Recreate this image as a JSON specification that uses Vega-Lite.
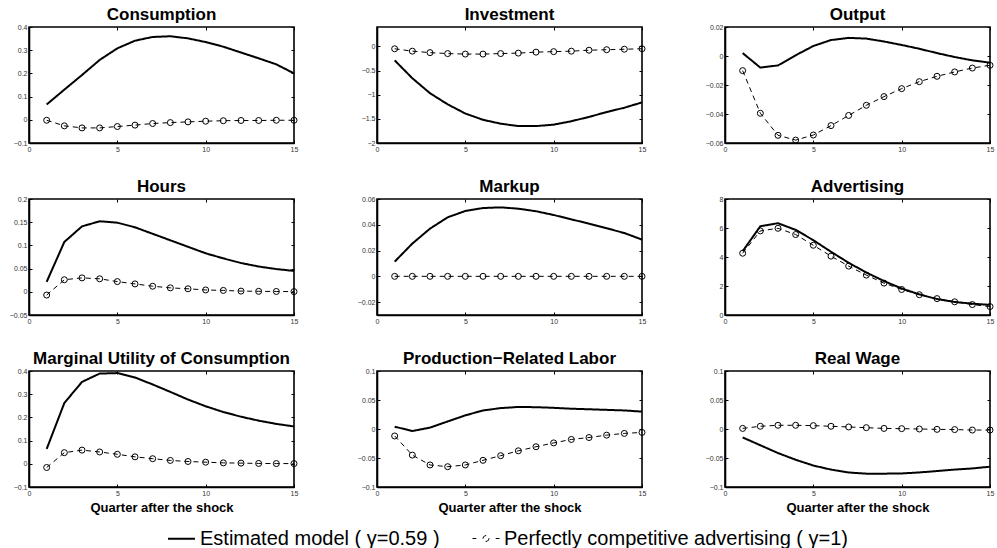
{
  "$schema": "https://vega.github.io/schema/vega-lite/v6.json",
  "background": "white",
  "padding": {"left": 8, "top": 5, "right": 4, "bottom": 2},
  "data": {
    "values": [
      {"p": "Consumption", "q": 1, "e": 0.066, "c": -0.002},
      {"p": "Consumption", "q": 2, "e": 0.13, "c": -0.026},
      {"p": "Consumption", "q": 3, "e": 0.193, "c": -0.035},
      {"p": "Consumption", "q": 4, "e": 0.258, "c": -0.035},
      {"p": "Consumption", "q": 5, "e": 0.308, "c": -0.029},
      {"p": "Consumption", "q": 6, "e": 0.341, "c": -0.023},
      {"p": "Consumption", "q": 7, "e": 0.357, "c": -0.016},
      {"p": "Consumption", "q": 8, "e": 0.36, "c": -0.012},
      {"p": "Consumption", "q": 9, "e": 0.351, "c": -0.009},
      {"p": "Consumption", "q": 10, "e": 0.335, "c": -0.006},
      {"p": "Consumption", "q": 11, "e": 0.315, "c": -0.004},
      {"p": "Consumption", "q": 12, "e": 0.29, "c": -0.003},
      {"p": "Consumption", "q": 13, "e": 0.265, "c": -0.003},
      {"p": "Consumption", "q": 14, "e": 0.239, "c": -0.002},
      {"p": "Consumption", "q": 15, "e": 0.2, "c": -0.002},

      {"p": "Investment", "q": 1, "e": -0.29, "c": -0.05},
      {"p": "Investment", "q": 2, "e": -0.66, "c": -0.1},
      {"p": "Investment", "q": 3, "e": -0.97, "c": -0.13},
      {"p": "Investment", "q": 4, "e": -1.2, "c": -0.15},
      {"p": "Investment", "q": 5, "e": -1.39, "c": -0.16},
      {"p": "Investment", "q": 6, "e": -1.52, "c": -0.16},
      {"p": "Investment", "q": 7, "e": -1.6, "c": -0.15},
      {"p": "Investment", "q": 8, "e": -1.65, "c": -0.14},
      {"p": "Investment", "q": 9, "e": -1.65, "c": -0.12},
      {"p": "Investment", "q": 10, "e": -1.62, "c": -0.11},
      {"p": "Investment", "q": 11, "e": -1.55, "c": -0.1},
      {"p": "Investment", "q": 12, "e": -1.46, "c": -0.08},
      {"p": "Investment", "q": 13, "e": -1.36, "c": -0.07},
      {"p": "Investment", "q": 14, "e": -1.27, "c": -0.06},
      {"p": "Investment", "q": 15, "e": -1.16, "c": -0.05},

      {"p": "Output", "q": 1, "e": 0.002, "c": -0.0101},
      {"p": "Output", "q": 2, "e": -0.008, "c": -0.0395},
      {"p": "Output", "q": 3, "e": -0.0065, "c": -0.0547},
      {"p": "Output", "q": 4, "e": 0.0005, "c": -0.058},
      {"p": "Output", "q": 5, "e": 0.0069, "c": -0.0545},
      {"p": "Output", "q": 6, "e": 0.011, "c": -0.048},
      {"p": "Output", "q": 7, "e": 0.0125, "c": -0.041},
      {"p": "Output", "q": 8, "e": 0.012, "c": -0.034},
      {"p": "Output", "q": 9, "e": 0.01, "c": -0.028},
      {"p": "Output", "q": 10, "e": 0.0076, "c": -0.0225},
      {"p": "Output", "q": 11, "e": 0.005, "c": -0.0177},
      {"p": "Output", "q": 12, "e": 0.002, "c": -0.014},
      {"p": "Output", "q": 13, "e": -0.0007, "c": -0.011},
      {"p": "Output", "q": 14, "e": -0.003, "c": -0.0083},
      {"p": "Output", "q": 15, "e": -0.0046, "c": -0.0064},

      {"p": "Hours", "q": 1, "e": 0.0215, "c": -0.007},
      {"p": "Hours", "q": 2, "e": 0.1075, "c": 0.026},
      {"p": "Hours", "q": 3, "e": 0.141, "c": 0.03},
      {"p": "Hours", "q": 4, "e": 0.152, "c": 0.028},
      {"p": "Hours", "q": 5, "e": 0.149, "c": 0.022},
      {"p": "Hours", "q": 6, "e": 0.139, "c": 0.017},
      {"p": "Hours", "q": 7, "e": 0.125, "c": 0.012},
      {"p": "Hours", "q": 8, "e": 0.111, "c": 0.0085},
      {"p": "Hours", "q": 9, "e": 0.097, "c": 0.0065},
      {"p": "Hours", "q": 10, "e": 0.083, "c": 0.004},
      {"p": "Hours", "q": 11, "e": 0.072, "c": 0.003},
      {"p": "Hours", "q": 12, "e": 0.062, "c": 0.0015},
      {"p": "Hours", "q": 13, "e": 0.0545, "c": 0.001},
      {"p": "Hours", "q": 14, "e": 0.049, "c": 0.0007},
      {"p": "Hours", "q": 15, "e": 0.045, "c": 0.0004},

      {"p": "Markup", "q": 1, "e": 0.0114, "c": 0},
      {"p": "Markup", "q": 2, "e": 0.0254, "c": 0},
      {"p": "Markup", "q": 3, "e": 0.037, "c": 0},
      {"p": "Markup", "q": 4, "e": 0.0458, "c": 0},
      {"p": "Markup", "q": 5, "e": 0.0507, "c": 0},
      {"p": "Markup", "q": 6, "e": 0.053, "c": 0},
      {"p": "Markup", "q": 7, "e": 0.0535, "c": 0},
      {"p": "Markup", "q": 8, "e": 0.0525, "c": 0},
      {"p": "Markup", "q": 9, "e": 0.0505, "c": 0},
      {"p": "Markup", "q": 10, "e": 0.0476, "c": 0},
      {"p": "Markup", "q": 11, "e": 0.0442, "c": 0},
      {"p": "Markup", "q": 12, "e": 0.0409, "c": 0},
      {"p": "Markup", "q": 13, "e": 0.0373, "c": 0},
      {"p": "Markup", "q": 14, "e": 0.0336, "c": 0},
      {"p": "Markup", "q": 15, "e": 0.0285, "c": 0},

      {"p": "Advertising", "q": 1, "e": 4.4, "c": 4.26},
      {"p": "Advertising", "q": 2, "e": 6.12, "c": 5.8},
      {"p": "Advertising", "q": 3, "e": 6.33, "c": 5.98},
      {"p": "Advertising", "q": 4, "e": 5.87, "c": 5.55},
      {"p": "Advertising", "q": 5, "e": 5.16, "c": 4.81},
      {"p": "Advertising", "q": 6, "e": 4.36, "c": 4.06},
      {"p": "Advertising", "q": 7, "e": 3.6, "c": 3.37},
      {"p": "Advertising", "q": 8, "e": 2.93, "c": 2.75},
      {"p": "Advertising", "q": 9, "e": 2.34, "c": 2.2},
      {"p": "Advertising", "q": 10, "e": 1.83, "c": 1.76},
      {"p": "Advertising", "q": 11, "e": 1.42, "c": 1.4},
      {"p": "Advertising", "q": 12, "e": 1.1, "c": 1.13},
      {"p": "Advertising", "q": 13, "e": 0.9, "c": 0.91},
      {"p": "Advertising", "q": 14, "e": 0.78, "c": 0.72},
      {"p": "Advertising", "q": 15, "e": 0.7, "c": 0.58},

      {"p": "Marginal Utility of Consumption", "q": 1, "e": 0.064, "c": -0.016},
      {"p": "Marginal Utility of Consumption", "q": 2, "e": 0.262, "c": 0.048},
      {"p": "Marginal Utility of Consumption", "q": 3, "e": 0.353, "c": 0.059},
      {"p": "Marginal Utility of Consumption", "q": 4, "e": 0.389, "c": 0.051},
      {"p": "Marginal Utility of Consumption", "q": 5, "e": 0.391, "c": 0.041},
      {"p": "Marginal Utility of Consumption", "q": 6, "e": 0.372, "c": 0.03},
      {"p": "Marginal Utility of Consumption", "q": 7, "e": 0.342, "c": 0.022},
      {"p": "Marginal Utility of Consumption", "q": 8, "e": 0.31, "c": 0.0145},
      {"p": "Marginal Utility of Consumption", "q": 9, "e": 0.277, "c": 0.01},
      {"p": "Marginal Utility of Consumption", "q": 10, "e": 0.248, "c": 0.007},
      {"p": "Marginal Utility of Consumption", "q": 11, "e": 0.223, "c": 0.004},
      {"p": "Marginal Utility of Consumption", "q": 12, "e": 0.203, "c": 0.003},
      {"p": "Marginal Utility of Consumption", "q": 13, "e": 0.186, "c": 0.0015},
      {"p": "Marginal Utility of Consumption", "q": 14, "e": 0.172, "c": 0.001},
      {"p": "Marginal Utility of Consumption", "q": 15, "e": 0.161, "c": 0.001},

      {"p": "Production−Related Labor", "q": 1, "e": 0.004, "c": -0.012},
      {"p": "Production−Related Labor", "q": 2, "e": -0.0035, "c": -0.045},
      {"p": "Production−Related Labor", "q": 3, "e": 0.0024, "c": -0.062},
      {"p": "Production−Related Labor", "q": 4, "e": 0.013, "c": -0.065},
      {"p": "Production−Related Labor", "q": 5, "e": 0.0235, "c": -0.062},
      {"p": "Production−Related Labor", "q": 6, "e": 0.032, "c": -0.054},
      {"p": "Production−Related Labor", "q": 7, "e": 0.036, "c": -0.046},
      {"p": "Production−Related Labor", "q": 8, "e": 0.038, "c": -0.0376},
      {"p": "Production−Related Labor", "q": 9, "e": 0.0376, "c": -0.0306},
      {"p": "Production−Related Labor", "q": 10, "e": 0.0365, "c": -0.024},
      {"p": "Production−Related Labor", "q": 11, "e": 0.035, "c": -0.018},
      {"p": "Production−Related Labor", "q": 12, "e": 0.034, "c": -0.0147},
      {"p": "Production−Related Labor", "q": 13, "e": 0.033, "c": -0.0106},
      {"p": "Production−Related Labor", "q": 14, "e": 0.032, "c": -0.0076},
      {"p": "Production−Related Labor", "q": 15, "e": 0.03, "c": -0.0059},

      {"p": "Real Wage", "q": 1, "e": -0.0146, "c": 0.001},
      {"p": "Real Wage", "q": 2, "e": -0.028, "c": 0.0047},
      {"p": "Real Wage", "q": 3, "e": -0.0415, "c": 0.0064},
      {"p": "Real Wage", "q": 4, "e": -0.053, "c": 0.0064},
      {"p": "Real Wage", "q": 5, "e": -0.063, "c": 0.0058},
      {"p": "Real Wage", "q": 6, "e": -0.07, "c": 0.0047},
      {"p": "Real Wage", "q": 7, "e": -0.075, "c": 0.0035},
      {"p": "Real Wage", "q": 8, "e": -0.077, "c": 0.0023},
      {"p": "Real Wage", "q": 9, "e": -0.077, "c": 0.001},
      {"p": "Real Wage", "q": 10, "e": -0.0766, "c": 0.0006},
      {"p": "Real Wage", "q": 11, "e": -0.0749, "c": 0},
      {"p": "Real Wage", "q": 12, "e": -0.0725, "c": -0.0006},
      {"p": "Real Wage", "q": 13, "e": -0.07, "c": -0.001},
      {"p": "Real Wage", "q": 14, "e": -0.068, "c": -0.0018},
      {"p": "Real Wage", "q": 15, "e": -0.065, "c": -0.0018}
    ]
  },
  "columns": 3,
  "bounds": "flush",
  "spacing": {"row": 56, "column": 83},
  "concat": [
    {
      "title": "Consumption", "width": 265, "height": 116,
      "transform": [{"filter": "datum.p === 'Consumption'"}, {"fold": ["e", "c"], "as": ["s", "v"]}],
      "layer": [
        {"mark": {"type": "line", "color": "black"},
         "encoding": {
           "x": {"field": "q", "type": "quantitative", "scale": {"domain": [0, 15]}, "axis": {"values": [0, 5, 10, 15], "title": null}},
           "y": {"field": "v", "type": "quantitative", "scale": {"domain": [-0.1, 0.4]}, "axis": {"values": [-0.1, 0, 0.1, 0.2, 0.3, 0.4], "title": null}},
           "strokeDash": {"field": "s", "type": "nominal", "scale": {"domain": ["e", "c"], "range": [[1, 0], [5, 4]]},
             "legend": {"orient": "none", "legendX": 138, "legendY": 497, "direction": "horizontal", "title": null,
               "symbolType": "stroke", "symbolSize": 729, "symbolStrokeColor": "black", "symbolStrokeWidth": 1.3,
               "labelExpr": "datum.value === 'e' ? 'Estimated model ( γ=0.59 )' : 'Perfectly competitive advertising ( γ=1)'",
               "encode": {"symbols": {"update": {
                 "shape": {"signal": "datum.value === 'c' ? 'M-1,0L-0.72,0M0.22,0L0.19,0.11L0.11,0.19L0,0.22L-0.11,0.19L-0.19,0.11L-0.22,0L-0.19,-0.11L-0.11,-0.19L0,-0.22L0.11,-0.19L0.19,-0.11ZM0.72,0L1,0' : 'stroke'"},
                 "strokeDash": {"value": [1, 0]},
                 "fill": {"value": "transparent"}
               }}}}},
           "strokeWidth": {"field": "s", "type": "nominal", "scale": {"domain": ["e", "c"], "range": [2, 1]}, "legend": null}
         }},
        {"transform": [{"filter": "datum.s === 'c'"}],
         "mark": {"type": "point", "shape": "circle", "filled": false, "color": "black", "size": 36, "strokeWidth": 1, "opacity": 1},
         "encoding": {
           "x": {"field": "q", "type": "quantitative", "scale": {"domain": [0, 15]}, "axis": {"orient": "top", "values": [0, 5, 10, 15], "labels": false, "domain": false, "title": null, "minExtent": 4}},
           "y": {"field": "v", "type": "quantitative", "scale": {"domain": [-0.1, 0.4]}, "axis": {"orient": "right", "values": [-0.1, 0, 0.1, 0.2, 0.3, 0.4], "labels": false, "domain": false, "title": null}}
         }}
      ],
      "resolve": {"axis": {"x": "independent", "y": "independent"}}
    },
    {
      "title": "Investment", "width": 265, "height": 116,
      "transform": [{"filter": "datum.p === 'Investment'"}, {"fold": ["e", "c"], "as": ["s", "v"]}],
      "layer": [
        {"mark": {"type": "line", "color": "black"},
         "encoding": {
           "x": {"field": "q", "type": "quantitative", "scale": {"domain": [0, 15]}, "axis": {"values": [0, 5, 10, 15], "title": null}},
           "y": {"field": "v", "type": "quantitative", "scale": {"domain": [-2, 0.4]}, "axis": {"values": [-2, -1.5, -1, -0.5, 0], "title": null}},
           "strokeDash": {"field": "s", "type": "nominal", "scale": {"domain": ["e", "c"], "range": [[1, 0], [5, 4]]}},
           "strokeWidth": {"field": "s", "type": "nominal", "scale": {"domain": ["e", "c"], "range": [2, 1]}, "legend": null}
         }},
        {"transform": [{"filter": "datum.s === 'c'"}],
         "mark": {"type": "point", "shape": "circle", "filled": false, "color": "black", "size": 36, "strokeWidth": 1, "opacity": 1},
         "encoding": {
           "x": {"field": "q", "type": "quantitative", "scale": {"domain": [0, 15]}, "axis": {"orient": "top", "values": [0, 5, 10, 15], "labels": false, "domain": false, "title": null, "minExtent": 4}},
           "y": {"field": "v", "type": "quantitative", "scale": {"domain": [-2, 0.4]}, "axis": {"orient": "right", "values": [-2, -1.5, -1, -0.5, 0], "labels": false, "domain": false, "title": null}}
         }}
      ],
      "resolve": {"axis": {"x": "independent", "y": "independent"}}
    },
    {
      "title": "Output", "width": 265, "height": 116,
      "transform": [{"filter": "datum.p === 'Output'"}, {"fold": ["e", "c"], "as": ["s", "v"]}],
      "layer": [
        {"mark": {"type": "line", "color": "black"},
         "encoding": {
           "x": {"field": "q", "type": "quantitative", "scale": {"domain": [0, 15]}, "axis": {"values": [0, 5, 10, 15], "title": null}},
           "y": {"field": "v", "type": "quantitative", "scale": {"domain": [-0.06, 0.02]}, "axis": {"values": [-0.06, -0.04, -0.02, 0, 0.02], "title": null}},
           "strokeDash": {"field": "s", "type": "nominal", "scale": {"domain": ["e", "c"], "range": [[1, 0], [5, 4]]}},
           "strokeWidth": {"field": "s", "type": "nominal", "scale": {"domain": ["e", "c"], "range": [2, 1]}, "legend": null}
         }},
        {"transform": [{"filter": "datum.s === 'c'"}],
         "mark": {"type": "point", "shape": "circle", "filled": false, "color": "black", "size": 36, "strokeWidth": 1, "opacity": 1},
         "encoding": {
           "x": {"field": "q", "type": "quantitative", "scale": {"domain": [0, 15]}, "axis": {"orient": "top", "values": [0, 5, 10, 15], "labels": false, "domain": false, "title": null, "minExtent": 4}},
           "y": {"field": "v", "type": "quantitative", "scale": {"domain": [-0.06, 0.02]}, "axis": {"orient": "right", "values": [-0.06, -0.04, -0.02, 0, 0.02], "labels": false, "domain": false, "title": null}}
         }}
      ],
      "resolve": {"axis": {"x": "independent", "y": "independent"}}
    },
    {
      "title": "Hours", "width": 265, "height": 116,
      "transform": [{"filter": "datum.p === 'Hours'"}, {"fold": ["e", "c"], "as": ["s", "v"]}],
      "layer": [
        {"mark": {"type": "line", "color": "black"},
         "encoding": {
           "x": {"field": "q", "type": "quantitative", "scale": {"domain": [0, 15]}, "axis": {"values": [0, 5, 10, 15], "title": null}},
           "y": {"field": "v", "type": "quantitative", "scale": {"domain": [-0.05, 0.2]}, "axis": {"values": [-0.05, 0, 0.05, 0.1, 0.15, 0.2], "title": null}},
           "strokeDash": {"field": "s", "type": "nominal", "scale": {"domain": ["e", "c"], "range": [[1, 0], [5, 4]]}},
           "strokeWidth": {"field": "s", "type": "nominal", "scale": {"domain": ["e", "c"], "range": [2, 1]}, "legend": null}
         }},
        {"transform": [{"filter": "datum.s === 'c'"}],
         "mark": {"type": "point", "shape": "circle", "filled": false, "color": "black", "size": 36, "strokeWidth": 1, "opacity": 1},
         "encoding": {
           "x": {"field": "q", "type": "quantitative", "scale": {"domain": [0, 15]}, "axis": {"orient": "top", "values": [0, 5, 10, 15], "labels": false, "domain": false, "title": null, "minExtent": 4}},
           "y": {"field": "v", "type": "quantitative", "scale": {"domain": [-0.05, 0.2]}, "axis": {"orient": "right", "values": [-0.05, 0, 0.05, 0.1, 0.15, 0.2], "labels": false, "domain": false, "title": null}}
         }}
      ],
      "resolve": {"axis": {"x": "independent", "y": "independent"}}
    },
    {
      "title": "Markup", "width": 265, "height": 116,
      "transform": [{"filter": "datum.p === 'Markup'"}, {"fold": ["e", "c"], "as": ["s", "v"]}],
      "layer": [
        {"mark": {"type": "line", "color": "black"},
         "encoding": {
           "x": {"field": "q", "type": "quantitative", "scale": {"domain": [0, 15]}, "axis": {"values": [0, 5, 10, 15], "title": null}},
           "y": {"field": "v", "type": "quantitative", "scale": {"domain": [-0.03, 0.06]}, "axis": {"values": [-0.02, 0, 0.02, 0.04, 0.06], "title": null}},
           "strokeDash": {"field": "s", "type": "nominal", "scale": {"domain": ["e", "c"], "range": [[1, 0], [5, 4]]}},
           "strokeWidth": {"field": "s", "type": "nominal", "scale": {"domain": ["e", "c"], "range": [2, 1]}, "legend": null}
         }},
        {"transform": [{"filter": "datum.s === 'c'"}],
         "mark": {"type": "point", "shape": "circle", "filled": false, "color": "black", "size": 36, "strokeWidth": 1, "opacity": 1},
         "encoding": {
           "x": {"field": "q", "type": "quantitative", "scale": {"domain": [0, 15]}, "axis": {"orient": "top", "values": [0, 5, 10, 15], "labels": false, "domain": false, "title": null, "minExtent": 4}},
           "y": {"field": "v", "type": "quantitative", "scale": {"domain": [-0.03, 0.06]}, "axis": {"orient": "right", "values": [-0.02, 0, 0.02, 0.04, 0.06], "labels": false, "domain": false, "title": null}}
         }}
      ],
      "resolve": {"axis": {"x": "independent", "y": "independent"}}
    },
    {
      "title": "Advertising", "width": 265, "height": 116,
      "transform": [{"filter": "datum.p === 'Advertising'"}, {"fold": ["e", "c"], "as": ["s", "v"]}],
      "layer": [
        {"mark": {"type": "line", "color": "black"},
         "encoding": {
           "x": {"field": "q", "type": "quantitative", "scale": {"domain": [0, 15]}, "axis": {"values": [0, 5, 10, 15], "title": null}},
           "y": {"field": "v", "type": "quantitative", "scale": {"domain": [0, 8]}, "axis": {"values": [0, 2, 4, 6, 8], "title": null}},
           "strokeDash": {"field": "s", "type": "nominal", "scale": {"domain": ["e", "c"], "range": [[1, 0], [5, 4]]}},
           "strokeWidth": {"field": "s", "type": "nominal", "scale": {"domain": ["e", "c"], "range": [2, 1]}, "legend": null}
         }},
        {"transform": [{"filter": "datum.s === 'c'"}],
         "mark": {"type": "point", "shape": "circle", "filled": false, "color": "black", "size": 36, "strokeWidth": 1, "opacity": 1},
         "encoding": {
           "x": {"field": "q", "type": "quantitative", "scale": {"domain": [0, 15]}, "axis": {"orient": "top", "values": [0, 5, 10, 15], "labels": false, "domain": false, "title": null, "minExtent": 4}},
           "y": {"field": "v", "type": "quantitative", "scale": {"domain": [0, 8]}, "axis": {"orient": "right", "values": [0, 2, 4, 6, 8], "labels": false, "domain": false, "title": null}}
         }}
      ],
      "resolve": {"axis": {"x": "independent", "y": "independent"}}
    },
    {
      "title": "Marginal Utility of Consumption", "width": 265, "height": 116,
      "transform": [{"filter": "datum.p === 'Marginal Utility of Consumption'"}, {"fold": ["e", "c"], "as": ["s", "v"]}],
      "layer": [
        {"mark": {"type": "line", "color": "black"},
         "encoding": {
           "x": {"field": "q", "type": "quantitative", "scale": {"domain": [0, 15]}, "axis": {"values": [0, 5, 10, 15], "title": "Quarter after the shock"}},
           "y": {"field": "v", "type": "quantitative", "scale": {"domain": [-0.1, 0.4]}, "axis": {"values": [-0.1, 0, 0.1, 0.2, 0.3, 0.4], "title": null}},
           "strokeDash": {"field": "s", "type": "nominal", "scale": {"domain": ["e", "c"], "range": [[1, 0], [5, 4]]}},
           "strokeWidth": {"field": "s", "type": "nominal", "scale": {"domain": ["e", "c"], "range": [2, 1]}, "legend": null}
         }},
        {"transform": [{"filter": "datum.s === 'c'"}],
         "mark": {"type": "point", "shape": "circle", "filled": false, "color": "black", "size": 36, "strokeWidth": 1, "opacity": 1},
         "encoding": {
           "x": {"field": "q", "type": "quantitative", "scale": {"domain": [0, 15]}, "axis": {"orient": "top", "values": [0, 5, 10, 15], "labels": false, "domain": false, "title": null, "minExtent": 4}},
           "y": {"field": "v", "type": "quantitative", "scale": {"domain": [-0.1, 0.4]}, "axis": {"orient": "right", "values": [-0.1, 0, 0.1, 0.2, 0.3, 0.4], "labels": false, "domain": false, "title": null}}
         }}
      ],
      "resolve": {"axis": {"x": "independent", "y": "independent"}}
    },
    {
      "title": "Production−Related Labor", "width": 265, "height": 116,
      "transform": [{"filter": "datum.p === 'Production−Related Labor'"}, {"fold": ["e", "c"], "as": ["s", "v"]}],
      "layer": [
        {"mark": {"type": "line", "color": "black"},
         "encoding": {
           "x": {"field": "q", "type": "quantitative", "scale": {"domain": [0, 15]}, "axis": {"values": [0, 5, 10, 15], "title": "Quarter after the shock"}},
           "y": {"field": "v", "type": "quantitative", "scale": {"domain": [-0.1, 0.1]}, "axis": {"values": [-0.1, -0.05, 0, 0.05, 0.1], "title": null}},
           "strokeDash": {"field": "s", "type": "nominal", "scale": {"domain": ["e", "c"], "range": [[1, 0], [5, 4]]}},
           "strokeWidth": {"field": "s", "type": "nominal", "scale": {"domain": ["e", "c"], "range": [2, 1]}, "legend": null}
         }},
        {"transform": [{"filter": "datum.s === 'c'"}],
         "mark": {"type": "point", "shape": "circle", "filled": false, "color": "black", "size": 36, "strokeWidth": 1, "opacity": 1},
         "encoding": {
           "x": {"field": "q", "type": "quantitative", "scale": {"domain": [0, 15]}, "axis": {"orient": "top", "values": [0, 5, 10, 15], "labels": false, "domain": false, "title": null, "minExtent": 4}},
           "y": {"field": "v", "type": "quantitative", "scale": {"domain": [-0.1, 0.1]}, "axis": {"orient": "right", "values": [-0.1, -0.05, 0, 0.05, 0.1], "labels": false, "domain": false, "title": null}}
         }}
      ],
      "resolve": {"axis": {"x": "independent", "y": "independent"}}
    },
    {
      "title": "Real Wage", "width": 265, "height": 116,
      "transform": [{"filter": "datum.p === 'Real Wage'"}, {"fold": ["e", "c"], "as": ["s", "v"]}],
      "layer": [
        {"mark": {"type": "line", "color": "black"},
         "encoding": {
           "x": {"field": "q", "type": "quantitative", "scale": {"domain": [0, 15]}, "axis": {"values": [0, 5, 10, 15], "title": "Quarter after the shock"}},
           "y": {"field": "v", "type": "quantitative", "scale": {"domain": [-0.1, 0.1]}, "axis": {"values": [-0.1, -0.05, 0, 0.05, 0.1], "title": null}},
           "strokeDash": {"field": "s", "type": "nominal", "scale": {"domain": ["e", "c"], "range": [[1, 0], [5, 4]]}},
           "strokeWidth": {"field": "s", "type": "nominal", "scale": {"domain": ["e", "c"], "range": [2, 1]}, "legend": null}
         }},
        {"transform": [{"filter": "datum.s === 'c'"}],
         "mark": {"type": "point", "shape": "circle", "filled": false, "color": "black", "size": 36, "strokeWidth": 1, "opacity": 1},
         "encoding": {
           "x": {"field": "q", "type": "quantitative", "scale": {"domain": [0, 15]}, "axis": {"orient": "top", "values": [0, 5, 10, 15], "labels": false, "domain": false, "title": null, "minExtent": 4}},
           "y": {"field": "v", "type": "quantitative", "scale": {"domain": [-0.1, 0.1]}, "axis": {"orient": "right", "values": [-0.1, -0.05, 0, 0.05, 0.1], "labels": false, "domain": false, "title": null}}
         }}
      ],
      "resolve": {"axis": {"x": "independent", "y": "independent"}}
    }
  ],
  "config": {
    "font": "Liberation Sans",
    "view": {"stroke": "black", "strokeWidth": 1.6},
    "title": {"font": "Liberation Sans", "fontSize": 17, "fontWeight": "bold", "color": "black", "anchor": "middle", "frame": "group", "offset": -1},
    "axis": {
      "grid": false,
      "domain": true,
      "domainColor": "black",
      "domainWidth": 1.6,
      "ticks": true,
      "tickColor": "black",
      "tickSize": -3,
      "tickWidth": 1,
      "labelPadding": 5,
      "labelFont": "Liberation Sans",
      "labelFontSize": 7,
      "labelColor": "#333333",
      "labelFlush": false,
      "labelOverlap": false,
      "format": "~g",
      "titleFont": "Liberation Sans",
      "titleFontSize": 13,
      "titleFontWeight": "bold",
      "titleColor": "black",
      "titlePadding": 5
    },
    "legend": {
      "labelFont": "Liberation Sans",
      "labelFontSize": 20,
      "labelColor": "black",
      "labelLimit": 0,
      "labelOffset": 4,
      "columnPadding": 30,
      "padding": 0
    }
  }
}
